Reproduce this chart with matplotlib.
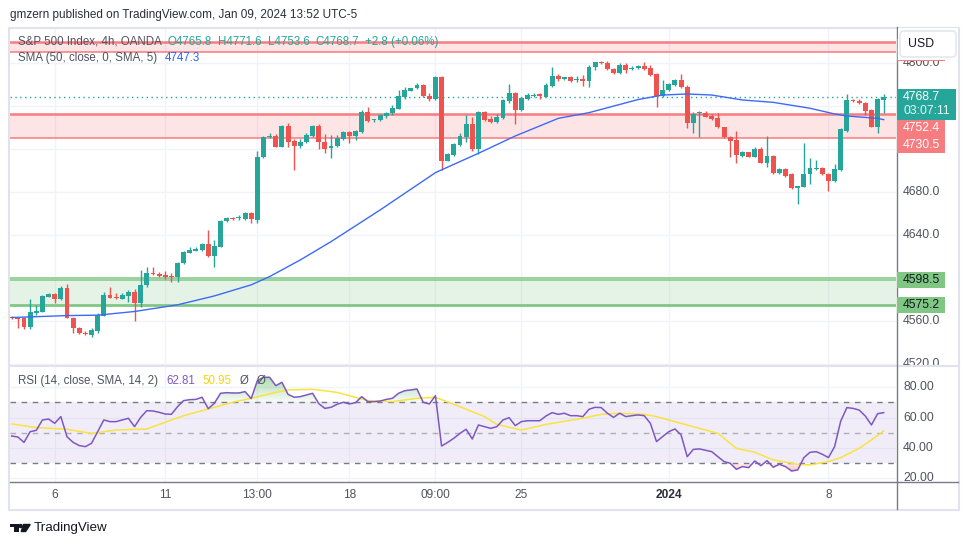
import numpy as np
import matplotlib
matplotlib.use("Agg")
import matplotlib.pyplot as plt
from matplotlib.patches import Rectangle, FancyBboxPatch, Polygon, Circle
from matplotlib.lines import Line2D
from matplotlib.transforms import IdentityTransform, blended_transform_factory
from matplotlib.colors import LinearSegmentedColormap
from matplotlib.path import Path

plt.rcParams['font.family'] = ['Liberation Sans', 'DejaVu Sans']

# 4h candles, S&P 500 (OANDA), Dec 5 2023 -> Jan 9 2024
opens = [4564.1, 4563.2, 4562.5, 4554.8, 4567.8, 4568.8, 4582.7, 4584.9, 4580.2, 4590.4,
         4563.2, 4553.6, 4548.9, 4547.4, 4551.1, 4565.0, 4584.3, 4582.7, 4580.8, 4583.6,
         4587.4, 4576.5, 4593.6, 4605.0, 4603.8, 4602.9, 4601.3, 4600.7, 4613.7, 4623.6,
         4625.5, 4626.1, 4631.7, 4620.8, 4629.2, 4652.8, 4655.9, 4655.6, 4655.0, 4660.2,
         4654.0, 4712.3, 4730.9, 4732.1, 4722.2, 4741.4, 4727.5, 4723.1, 4726.9, 4732.4,
         4741.4, 4726.2, 4720.6, 4723.1, 4729.3, 4736.2, 4732.1, 4736.2, 4754.1, 4747.0,
         4747.0, 4751.0, 4753.2, 4757.2, 4768.7, 4774.3, 4776.5, 4779.6, 4769.3, 4766.5,
         4787.0, 4709.2, 4714.4, 4723.8, 4731.5, 4743.3, 4719.7, 4754.1, 4747.9, 4745.4,
         4748.5, 4765.0, 4771.8, 4756.3, 4766.2, 4769.6, 4770.9, 4768.7, 4778.9, 4788.2,
         4784.8, 4786.7, 4784.2, 4784.8, 4783.3, 4796.0, 4801.3, 4800.3, 4794.4, 4790.4,
         4798.2, 4794.1, 4795.1, 4797.5, 4795.1, 4789.8, 4769.3, 4774.9, 4779.6, 4784.2,
         4778.0, 4743.9, 4753.2, 4753.8, 4750.7, 4749.2, 4740.2, 4730.9, 4728.4, 4713.8,
         4716.9, 4712.9, 4719.7, 4707.3, 4713.5, 4697.4, 4701.4, 4696.5, 4683.4, 4685.0,
         4696.5, 4701.7, 4702.7, 4696.8, 4690.6, 4700.5, 4737.1, 4765.6, 4764.7, 4763.1,
         4756.3, 4740.8, 4765.8]
highs = [4565.0, 4564.1, 4563.5, 4580.5, 4575.0, 4584.3, 4586.1, 4585.8, 4592.6, 4594.5,
         4564.1, 4554.2, 4551.1, 4553.9, 4567.2, 4587.4, 4592.0, 4585.8, 4586.4, 4588.9,
         4589.5, 4607.5, 4610.6, 4610.0, 4605.6, 4606.9, 4604.4, 4615.3, 4625.2, 4628.6,
         4628.6, 4632.3, 4644.7, 4635.4, 4654.0, 4657.1, 4657.1, 4658.3, 4661.7, 4661.7,
         4718.5, 4732.1, 4735.2, 4734.0, 4742.0, 4744.5, 4729.6, 4729.0, 4734.6, 4742.0,
         4743.3, 4734.0, 4733.0, 4733.0, 4737.1, 4737.1, 4737.7, 4756.3, 4758.8, 4748.2,
         4752.3, 4754.7, 4760.6, 4774.9, 4778.0, 4777.1, 4781.7, 4780.2, 4771.8, 4788.2,
         4788.2, 4716.6, 4725.9, 4734.6, 4751.6, 4749.5, 4755.7, 4755.7, 4750.7, 4752.6,
         4766.5, 4780.5, 4772.7, 4768.1, 4771.8, 4772.4, 4772.4, 4781.1, 4796.6, 4789.5,
         4787.3, 4788.2, 4788.2, 4788.8, 4798.2, 4801.3, 4802.2, 4801.9, 4795.1, 4799.7,
         4799.7, 4797.2, 4798.2, 4801.3, 4798.2, 4790.4, 4784.2, 4781.1, 4784.8, 4789.8,
         4779.6, 4754.7, 4755.4, 4755.7, 4752.6, 4753.2, 4740.8, 4732.1, 4736.8, 4718.2,
         4717.6, 4721.6, 4721.6, 4732.1, 4714.4, 4702.0, 4702.0, 4697.4, 4685.9, 4725.9,
         4711.4, 4709.8, 4703.6, 4697.4, 4706.1, 4739.3, 4770.9, 4766.2, 4766.2, 4764.0,
         4756.9, 4767.8, 4771.6]
lows = [4561.6, 4553.2, 4552.3, 4552.3, 4565.7, 4568.1, 4582.1, 4576.5, 4579.6, 4562.5,
        4549.2, 4548.0, 4547.1, 4545.5, 4549.2, 4564.7, 4581.2, 4580.8, 4580.2, 4578.1,
        4560.4, 4573.4, 4592.0, 4602.9, 4601.3, 4599.4, 4596.7, 4596.7, 4613.1, 4623.0,
        4624.9, 4625.5, 4619.9, 4610.0, 4628.6, 4652.2, 4654.0, 4653.7, 4654.0, 4650.9,
        4651.5, 4711.4, 4730.0, 4721.6, 4721.6, 4721.6, 4700.5, 4720.6, 4725.9, 4731.5,
        4719.7, 4716.6, 4712.0, 4721.6, 4728.4, 4725.9, 4728.4, 4735.2, 4744.8, 4745.4,
        4746.4, 4749.2, 4751.6, 4756.9, 4766.2, 4773.7, 4775.8, 4768.7, 4765.0, 4765.6,
        4700.5, 4708.9, 4713.8, 4722.8, 4726.9, 4718.5, 4715.1, 4746.4, 4744.5, 4744.5,
        4747.9, 4763.1, 4743.3, 4755.7, 4765.6, 4768.7, 4766.2, 4768.1, 4778.0, 4783.6,
        4784.2, 4782.7, 4782.0, 4778.9, 4778.0, 4793.5, 4799.1, 4793.5, 4789.8, 4789.8,
        4790.4, 4793.5, 4794.1, 4793.5, 4787.9, 4759.4, 4768.7, 4774.3, 4778.6, 4776.5,
        4739.3, 4735.2, 4730.9, 4749.5, 4747.0, 4739.6, 4730.0, 4712.9, 4707.3, 4712.9,
        4712.3, 4712.3, 4706.7, 4703.0, 4696.8, 4696.8, 4694.3, 4682.8, 4668.6, 4684.4,
        4687.5, 4700.5, 4695.8, 4681.3, 4689.6, 4699.9, 4736.2, 4764.0, 4761.9, 4751.6,
        4740.8, 4735.2, 4753.6]
closes = [4562.5, 4561.6, 4554.8, 4568.1, 4569.7, 4583.3, 4585.2, 4580.2, 4590.8, 4563.2,
          4553.2, 4548.6, 4548.3, 4551.7, 4565.7, 4584.3, 4581.8, 4581.5, 4584.3, 4587.4,
          4576.5, 4593.6, 4605.0, 4603.8, 4601.9, 4600.7, 4600.7, 4614.3, 4624.2, 4626.1,
          4627.0, 4631.7, 4620.8, 4630.1, 4653.1, 4655.6, 4655.0, 4656.2, 4660.2, 4654.6,
          4712.3, 4730.9, 4732.1, 4722.2, 4741.4, 4726.9, 4723.1, 4726.2, 4733.0, 4741.4,
          4726.2, 4720.0, 4723.1, 4730.6, 4736.2, 4732.1, 4736.8, 4754.1, 4746.4, 4747.9,
          4751.6, 4753.8, 4758.5, 4769.3, 4774.9, 4776.5, 4779.6, 4769.3, 4766.2, 4787.0,
          4709.2, 4715.1, 4724.7, 4732.1, 4743.3, 4719.7, 4754.1, 4747.0, 4745.1, 4749.5,
          4765.6, 4771.8, 4756.3, 4767.2, 4770.2, 4770.6, 4769.3, 4779.6, 4787.6, 4784.8,
          4786.7, 4783.6, 4785.4, 4783.6, 4796.6, 4800.6, 4800.0, 4794.1, 4790.4, 4798.5,
          4793.5, 4795.1, 4797.5, 4794.4, 4788.8, 4769.3, 4774.9, 4780.2, 4784.2, 4777.4,
          4743.9, 4752.6, 4753.8, 4750.1, 4747.6, 4740.2, 4730.9, 4727.8, 4714.4, 4717.6,
          4712.9, 4719.7, 4707.3, 4713.5, 4697.4, 4701.4, 4694.9, 4683.4, 4685.6, 4696.5,
          4702.7, 4702.7, 4696.5, 4690.6, 4701.1, 4738.3, 4765.6, 4764.7, 4762.5, 4755.7,
          4740.8, 4766.2, 4768.7]

# SMA 50 (bar index, value)
sma_idx = [0, 9, 14, 20, 27, 33, 39, 42, 47, 52, 60, 69, 76, 82, 89, 94, 102, 106,
           110, 114, 119, 124, 130, 134, 136, 141, 142]
sma_vals = [4563.2, 4565.0, 4565.4, 4568.8, 4575.0, 4583.3, 4593.6, 4601.3, 4616.8,
            4633.8, 4663.3, 4698.0, 4716.0, 4732.1, 4748.5, 4753.8, 4766.0, 4770.2,
            4771.2, 4770.2, 4765.6, 4763.4, 4757.9, 4752.6, 4750.7, 4748.5, 4747.3]

# RSI 14 per bar
rsi = [47.9, 47.2, 43.7, 50.7, 51.6, 58.4, 59.0, 56.2, 60.6, 47.4, 43.7, 41.6, 40.9,
       43.1, 50.7, 58.4, 57.3, 57.3, 58.4, 59.5, 54.0, 60.1, 64.5, 64.3, 63.4, 62.3,
       62.1, 67.1, 71.1, 71.7, 71.9, 73.3, 65.8, 69.3, 75.9, 76.3, 76.1, 76.1, 77.0,
       72.4, 84.2, 86.4, 86.4, 80.9, 83.1, 75.2, 73.3, 73.7, 74.8, 75.9, 69.1, 66.0,
       66.7, 68.7, 70.0, 68.9, 69.8, 73.7, 70.4, 70.4, 70.8, 71.9, 72.6, 75.9, 77.6,
       78.1, 78.7, 70.0, 68.9, 74.3, 41.3, 43.7, 46.4, 49.6, 52.3, 45.9, 55.1,
       54.0, 52.9, 54.0, 58.4, 59.9, 54.7, 57.3, 57.9, 57.9, 57.9, 61.0, 63.2, 62.1,
       62.8, 61.2, 61.2, 60.6, 65.4, 66.7, 66.5, 62.8, 60.1, 62.8, 60.6, 61.2, 61.7,
       61.2, 56.2, 44.2, 47.5, 50.7, 52.5, 48.6, 34.3, 39.1, 39.4, 38.5, 37.6, 34.3,
       31.1, 30.0, 26.0, 27.8, 27.1, 31.5, 28.4, 31.7, 27.4, 29.3, 27.8, 24.9, 25.6,
       33.7, 37.2, 37.6, 35.9, 33.7, 40.9, 57.7, 66.5, 66.0, 64.9, 61.0, 55.1, 62.5,
       63.2]

# RSI-based MA
rsi_ma_idx = [0, 4, 9, 13, 17, 22, 25, 28, 32, 36, 39, 43, 45, 49, 53, 58, 62, 66, 69,
              73, 77, 79, 83, 87, 93, 96, 99, 103, 105, 109, 115, 118, 121, 124, 128,
              130, 133, 135, 138, 140, 142]
rsi_ma = [55.8, 53.4, 52.3, 49.6, 51.8, 52.5, 56.9, 61.2, 65.6, 70.0, 72.6, 76.5, 78.1,
          78.5, 76.5, 71.1, 70.4, 72.6, 73.3, 67.1, 60.6, 55.5, 51.8, 55.5, 59.5, 62.1,
          62.8, 62.1, 60.6, 56.2, 49.6, 39.8, 37.2, 32.2, 29.3, 28.9, 31.1, 33.7, 39.8,
          45.3, 51.2]

# supply / demand zones drawn on the chart
red_zones = [(4810.0, 4819.3), (4730.5, 4752.4)]
green_zone = (4575.2, 4598.5)
green_extra_line = 4600.3
last_price = 4768.7
sma_last = 4747.3
rsi_last, rsi_ma_last = 62.81, 50.95

time_idx = [7, 25, 40, 55, 69, 83, 107, 133]
time_labels = ['6', '11', '13:00', '18', '09:00', '25', '2024', '8']
price_grid = [4520, 4560, 4600, 4640, 4680, 4720, 4760, 4800]
price_labels = [4520, 4560, 4640, 4680, 4800]
rsi_labels = [20, 40, 60, 80]

UP, DN = '#26a69a', '#ef5350'
ZONE_RED, ZONE_GREEN = '#f77c80', '#81c784'
GRID = '#f0f3fa'
TXT = '#50535e'

W, H = 970, 545
ID = IdentityTransform()
fig = plt.figure(figsize=(W / 100, H / 100), dpi=100)


def fig_axes(x0, y_top, w, h):
    return fig.add_axes([x0 / W, (H - y_top - h) / H, w / W, h / H])


ax = fig_axes(10, 27, 886, 339)
ax_r = fig_axes(10, 366, 886, 116)
ax_ps = fig_axes(896, 27, 62, 339)
ax_rs = fig_axes(896, 366, 62, 116)

xlim = (-0.28, 144.0)
ylim = (4518.1, 4833.5)
rlim = (17.7, 93.8)

for a in (ax, ax_r):
    for s in a.spines.values():
        s.set_visible(False)
    a.set_xlim(*xlim)
    a.set_xticks(time_idx)
    a.tick_params(length=0)
    a.set_axisbelow(True)
ax.set_ylim(*ylim)
ax.set_yticks(price_grid)
ax.set_yticklabels([])
ax.set_xticklabels([])
ax.grid(True, color=GRID, lw=1)

ax_r.set_ylim(*rlim)
ax_r.set_yticks(rsi_labels)
ax_r.set_yticklabels([])
ax_r.grid(True, color=GRID, lw=1)
ax_r.set_xticklabels(time_labels)
ax_r.tick_params(axis='x', pad=5, labelsize=8.6, labelcolor=TXT)
for lbl in ax_r.get_xticklabels():
    if lbl.get_text() == '2024':
        lbl.set_fontweight('bold')
        lbl.set_color('#2a2e39')

# zones
for lo, hi in red_zones:
    ax.axhspan(lo, hi, color='#f23645', alpha=0.13, lw=0, zorder=1)
    ax.axhline(hi, color=ZONE_RED, lw=1.8, zorder=2)
    ax.axhline(lo, color=ZONE_RED, lw=1.1, zorder=2)
ax.axhspan(green_zone[0], green_zone[1], color='#4caf50', alpha=0.14, lw=0, zorder=1)
ax.axhline(green_zone[1], color=ZONE_GREEN, lw=1.1, zorder=2)
ax.axhline(green_extra_line, color=ZONE_GREEN, lw=1.1, zorder=2)
ax.axhline(green_zone[0], color=ZONE_GREEN, lw=2.0, zorder=2)

# candles
o = np.array(opens)
hi_ = np.array(highs)
lo_ = np.array(lows)
c = np.array(closes)
idx = np.arange(len(c))
cols = np.where(c >= o, UP, DN)
ax.vlines(idx, lo_, hi_, colors=cols, lw=1, zorder=4)
ax.bar(idx, np.maximum(np.abs(c - o), 0.9), bottom=np.minimum(o, c), width=0.8,
       color=cols, lw=0, zorder=5)

ax.axhline(last_price, color=UP, lw=1, ls=(0, (1, 2.5)), zorder=3)
ax.plot(sma_idx, sma_vals, color='#3d6af5', lw=1.0, zorder=6)

# RSI panel
r = np.array(rsi)
ax_r.axhspan(30, 70, color='#7e57c2', alpha=0.1, lw=0, zorder=1)
for lvl, al in ((70, 1.0), (50, 0.55), (30, 1.0)):
    ax_r.axhline(lvl, color='#787b86', alpha=al, lw=1, ls=(0, (4, 4)), zorder=2)


def gradient_fill(where, base, top, rgb, a_lo, a_hi):
    coll = ax_r.fill_between(idx, r, base, where=where, interpolate=True,
                             facecolor='none', edgecolor='none')
    paths = coll.get_paths()
    if not paths:
        return
    cmap = LinearSegmentedColormap.from_list('g', [rgb + (a_lo,), rgb + (a_hi,)])
    grad = np.linspace(0, 1, 256).reshape(-1, 1)
    y0, y1 = (base, top) if top > base else (top, base)
    img = ax_r.imshow(grad if top > base else grad[::-1], extent=[xlim[0], xlim[1], y0, y1],
                      origin='lower', cmap=cmap, aspect='auto', zorder=2,
                      interpolation='bilinear')
    img.set_clip_path(Path.make_compound_path(*paths), transform=ax_r.transData)


gradient_fill(r >= 70, 70, 88, (0.30, 0.69, 0.31), 0.05, 0.5)
gradient_fill(r <= 30, 30, 22, (0.94, 0.33, 0.31), 0.05, 0.5)
ax_r.plot(idx, r, color='#7e57c2', lw=1.1, zorder=4)
ax_r.plot(rsi_ma_idx, rsi_ma, color='#f9e33f', lw=1.1, zorder=3)
ax_r.set_xlim(*xlim)
ax_r.set_ylim(*rlim)

# price / rsi scales
for a, lim, vals, fmt in ((ax_ps, ylim, price_labels, '{:.1f}'),
                          (ax_rs, rlim, rsi_labels, '{:.2f}')):
    a.set_xlim(0, 1)
    a.set_ylim(*lim)
    a.axis('off')
    tr = blended_transform_factory(a.transAxes, a.transData)
    for v in vals:
        a.text(0.115, v, fmt.format(v), transform=tr, ha='left', va='center',
               fontsize=8.8, color=TXT, clip_on=True)


def ypx(a, v):
    return a.transData.transform((0, v))[1]


def box(x, y_bot, w, h, color, z=4):
    fig.add_artist(Rectangle((x, y_bot), w, h, transform=ID, facecolor=color,
                             edgecolor='none', zorder=z))


def label(x, y, s, color, z=5, **kw):
    fig.text(x, y, s, transform=ID, ha='left', va='center', fontsize=8.8,
             color=color, zorder=z, **kw)


yl = ypx(ax, last_price)
box(896.5, yl - 22.9, 59.5, 30.7, UP)
label(903, yl, f'{last_price:.1f}', 'white')
label(903, yl - 14.5, '03:07:11', '#e6f5f3')
box(896.5, yl - 56.2, 48.5, 33.0, ZONE_RED)
label(903, yl - 31.6, f'{red_zones[1][1]:.1f}', 'white')
label(903, yl - 47.9, f'{red_zones[1][0]:.1f}', 'white')
for v in (green_zone[1], green_zone[0]):
    yg = ypx(ax, v)
    box(896.5, yg - 8, 48.5, 16, ZONE_GREEN)
    label(903, yg, f'{v:.1f}', '#131722')

# upper zone label, mostly hidden behind the currency button
yt = ypx(ax, red_zones[0][0])
box(896.5, yt - 9.2, 48.5, 22, ZONE_RED, z=5)
box(897.5, H - 59.8, 60, 32, 'white', z=6)
fig.add_artist(FancyBboxPatch((900, H - 57), 56, 26, boxstyle='round,pad=0,rounding_size=4',
                              transform=ID, facecolor='white', edgecolor='#e0e3eb', lw=1,
                              zorder=7))
label(908, H - 44, 'USD', '#131722', z=8)

# frame and separators
fig.add_artist(Rectangle((8.5, H - 509.5), 950.5, 482, transform=ID, fill=False,
                         edgecolor='#e0e3eb', lw=1.5, zorder=3))
fig.add_artist(Line2D([9, 959], [H - 366, H - 366], transform=ID, color='#e0e3eb',
                      lw=1.5, zorder=3))
fig.add_artist(Line2D([10, 958], [H - 482, H - 482], transform=ID, color='#787b86',
                      lw=1, zorder=3))
fig.add_artist(Line2D([896.5, 896.5], [H - 27, H - 509], transform=ID, color='#787b86',
                      lw=1, zorder=3))

# texts
renderer = fig.canvas.get_renderer()


def seq(x, y, parts, size=8.3):
    for s, col, gap in parts:
        t = fig.text(x, H - y, s, transform=ID, ha='left', va='center', fontsize=size,
                     color=col, zorder=9)
        x += t.get_window_extent(renderer).width + gap


fig.text(10, H - 15, 'gmzern published on TradingView.com, Jan 09, 2024 13:52 UTC-5',
         transform=ID, ha='left', va='center', fontsize=8.5, color='#2a2e39')
seq(18, 42, [('S&P 500 Index, 4h, OANDA', TXT, 6),
             ('O4765.8', UP, 6), ('H4771.6', UP, 6), ('L4753.6', UP, 6),
             ('C4768.7', UP, 6), ('+2.8 (+0.06%)', UP, 0)])
seq(18, 58, [('SMA (50, close, 0, SMA, 5)', TXT, 8), (f'{sma_last:.1f}', '#2962ff', 0)])
seq(18, 381, [('RSI (14, close, SMA, 14, 2)', TXT, 8), (f'{rsi_last:.2f}', '#7e57c2', 8),
              (f'{rsi_ma_last:.2f}', '#f2d70f', 8), ('Ø', TXT, 8), ('Ø', TXT, 0)])

# TradingView logo
logo = '#131722'
box(10, H - 527, 8.5, 2.6, logo, z=5)
box(14.2, H - 531.5, 4.3, 7, logo, z=5)
fig.add_artist(Circle((20.6, H - 526), 1.5, transform=ID, color=logo, zorder=5))
fig.add_artist(Polygon([(23.6, H - 524.5), (30.2, H - 524.5), (25.6, H - 531.5),
                        (21.2, H - 531.5)], closed=True, transform=ID, color=logo,
                       zorder=5))
fig.text(34, H - 527.5, 'TradingView', transform=ID, ha='left', va='center',
         fontsize=9.6, color=logo)

fig.savefig('out.png', dpi=100, facecolor='white')
